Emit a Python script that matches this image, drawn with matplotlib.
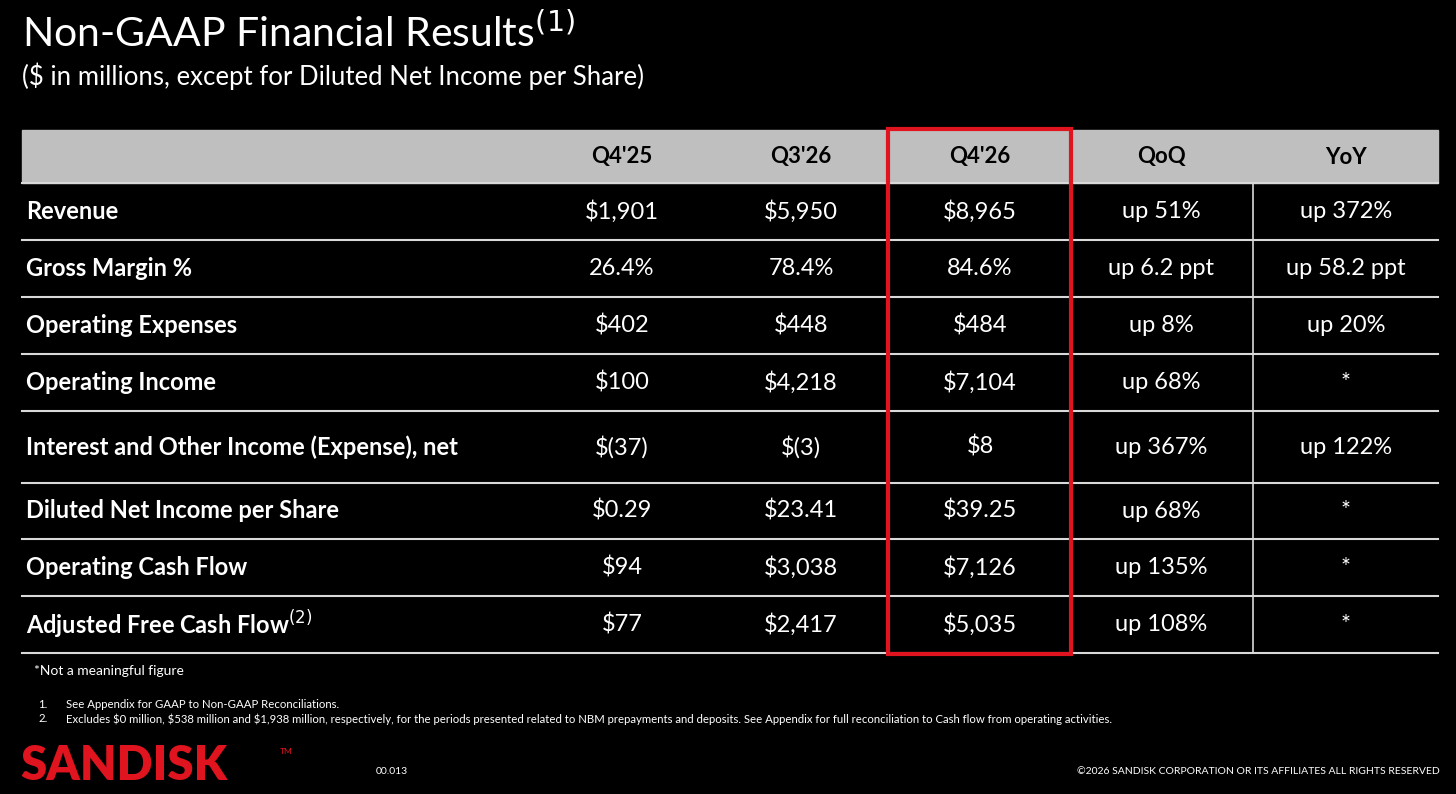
import matplotlib
matplotlib.use('Agg')
import matplotlib.pyplot as plt

plt.rcParams['font.family'] = ['Lato', 'DejaVu Sans']

columns = ["Q4'25", "Q3'26", "Q4'26", "QoQ", "YoY"]
row_labels = ["Revenue", "Gross Margin %", "Operating Expenses", "Operating Income",
              "Interest and Other Income (Expense), net", "Diluted Net Income per Share",
              "Operating Cash Flow", "Adjusted Free Cash Flow$^{(2)}$"]
q4_25 = ["$1,901", "26.4%", "$402", "$100", "$(37)", "$0.29", "$94", "$77"]
q3_26 = ["$5,950", "78.4%", "$448", "$4,218", "$(3)", "$23.41", "$3,038", "$2,417"]
q4_26 = ["$8,965", "84.6%", "$484", "$7,104", "$8", "$39.25", "$7,126", "$5,035"]
qoq = ["up 51%", "up 6.2 ppt", "up 8%", "up 68%", "up 367%", "up 68%", "up 135%", "up 108%"]
yoy = ["up 372%", "up 58.2 ppt", "up 20%", "*", "up 122%", "*", "*", "*"]

# layout in pixels
row_edges = [183, 240, 297, 354, 411, 483, 539, 596, 653]
col_x = [622, 801, 980, 1161, 1346]
left, right = 22, 1438

fig = plt.figure(figsize=(14.56, 7.94), dpi=100, facecolor='black')
ax = fig.add_axes([0, 0, 1, 1])
ax.set_xlim(0, 1456)
ax.set_ylim(794, 0)
ax.axis('off')
ax.set_facecolor('black')

ax.text(22, 33, "Non-GAAP Financial Results$^{(1)}$", color='white', fontsize=29.5, va='center')
ax.text(22, 76, "($ in millions, except for Diluted Net Income per Share)", color='white', fontsize=18.5, va='center')

# header
ax.add_patch(plt.Rectangle((left, 130), right - left, 53, color='#bfbfbf', zorder=1))
for x, c in zip(col_x, columns):
    ax.text(x, 157, c, ha='center', va='center', fontsize=16, fontweight='bold', color='black', zorder=3)

data = [q4_25, q3_26, q4_26, qoq, yoy]
for i, lab in enumerate(row_labels):
    yc = (row_edges[i] + row_edges[i + 1]) / 2
    ax.text(26, yc, lab, ha='left', va='center', fontsize=17, fontweight='bold', color='white')
    for x, col in zip(col_x, data):
        ax.text(x, yc, col[i], ha='center', va='center', fontsize=17, color='white')
for y in row_edges:
    ax.plot([left, right], [y, y], color='#d9d9d9', lw=1.5)
ax.plot([1253, 1253], [183, 653], color='#d9d9d9', lw=1.2)
ax.add_patch(plt.Rectangle((888, 129), 183, 525, fill=False, edgecolor='#e0141e', lw=3, zorder=4))

ax.text(34, 671, "*Not a meaningful figure", color='white', fontsize=10, va='center')
ax.text(38, 704, "1.", color='white', fontsize=8.2, va='center')
ax.text(66, 704, "See Appendix for GAAP to Non-GAAP Reconciliations.", color='white', fontsize=8.2, va='center')
ax.text(38, 719, "2.", color='white', fontsize=8.2, va='center')
ax.text(66, 719, "Excludes $0 million, $538 million and $1,938 million, respectively, for the periods presented "
        "related to NBM prepayments and deposits. See Appendix for full reconciliation to Cash flow from operating activities.",
        color='white', fontsize=8.2, va='center')

ax.text(20, 766, "SANDISK", color='#e0141e', fontsize=34, fontweight='heavy', va='center')
ax.text(280, 752, "TM", color='#e0141e', fontsize=6, va='center')
ax.text(376, 772, "00.013", color='white', fontsize=7.5, va='center')
ax.text(1440, 772, "©2026 SANDISK CORPORATION OR ITS AFFILIATES ALL RIGHTS RESERVED", color='white',
        fontsize=7.5, va='center', ha='right')

fig.savefig('out.png', dpi=100, facecolor='black')
